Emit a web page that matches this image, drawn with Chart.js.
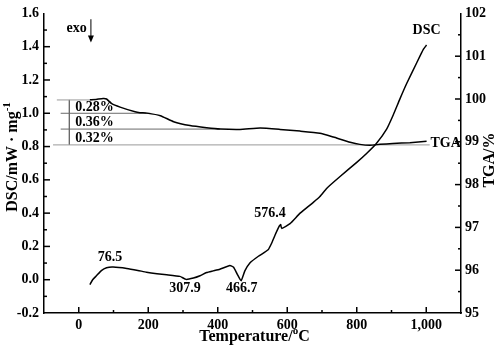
<!DOCTYPE html>
<html><head><meta charset="utf-8">
<script src="https://cdn.jsdelivr.net/npm/chart.js@4/dist/chart.umd.min.js"></script>
<style>html,body{margin:0;padding:0;background:#fff}#wrap{width:498px;height:347px}
.pre{font-family:"Liberation Serif";font-weight:bold;position:absolute;left:-999px}</style>
</head><body><span class="pre">0.28% Temperature</span><div id="wrap"><canvas id="c" width="498" height="347"></canvas></div>
<script>
// ---- data ----
const dscTemp   = [32, 40, 51, 65, 80, 99, 138, 170, 195, 225, 253, 291, 309, 330, 349, 368, 387, 406, 435, 445, 456, 467, 478, 493, 517, 545, 555, 565, 577, 581, 584, 608, 637, 675, 694, 714, 752, 800, 829, 857, 886, 905, 924, 944, 973, 992, 1001];
const dscValues = [-0.03, 0.0, 0.024, 0.055, 0.072, 0.076, 0.068, 0.056, 0.045, 0.036, 0.03, 0.02, 0.002, 0.01, 0.024, 0.043, 0.053, 0.063, 0.085, 0.076, 0.034, -0.006, 0.053, 0.102, 0.141, 0.18, 0.219, 0.269, 0.322, 0.331, 0.308, 0.337, 0.40, 0.465, 0.50, 0.55, 0.62, 0.705, 0.76, 0.82, 0.905, 0.99, 1.085, 1.18, 1.305, 1.385, 1.41];
const tgaTemp   = [32, 50, 70, 80, 95, 119, 162, 176, 196, 235, 273, 320, 368, 407, 464, 522, 579, 637, 694, 733, 781, 809, 838, 867, 904, 953, 1001];
const tgaValues = [99.98, 99.99, 100.01, 100.0, 99.89, 99.81, 99.70, 99.68, 99.67, 99.61, 99.47, 99.38, 99.33, 99.30, 99.29, 99.32, 99.29, 99.25, 99.20, 99.11, 98.99, 98.94, 98.92, 98.94, 98.96, 98.98, 99.01];
const xTickLabels   = [0, 200, 400, 600, 800, 1000];
const dscTickLabels = [-0.2, 0.0, 0.2, 0.4, 0.6, 0.8, 1.0, 1.2, 1.4, 1.6];
const tgaTickLabels = [95, 96, 97, 98, 99, 100, 101, 102];
// mass-loss steps (DSC-axis levels) and their labels
const stepLevels = [1.08, 1.0, 0.905, 0.81];
const stepStart  = [-63, -52, -52, -74];
const stepEnd    = [40, 206, 407, 1010];
const stepDivider = -27;
const stepLabels = ['0.28%', '0.36%', '0.32%'];
const peakLabels = ['76.5', '307.9', '466.7', '576.4'];

// ---- annotation anchors ----
const peakAnchors = [[90, 0.135], [306, -0.053], [469, -0.053], [550, 0.396]];
const FONT = '"Liberation Serif", "Times New Roman", Tinos, serif';

const datasets = [
  { data: dscTemp.map((t, i) => ({ x: t, y: dscValues[i] })), yAxisID: 'y', borderColor: '#000', borderWidth: 1.5, pointRadius: 0, tension: 0.15 },
  { data: tgaTemp.map((t, i) => ({ x: t, y: tgaValues[i] })), yAxisID: 'y1', borderColor: '#000', borderWidth: 1.5, pointRadius: 0, tension: 0.15 }
];
stepLevels.forEach((lv, i) => {
  datasets.push({ data: [{ x: stepStart[i], y: lv }, { x: stepEnd[i], y: lv }], yAxisID: 'y',
    borderColor: (i === 0 || i === 3) ? '#9a9a9a' : '#6a6a6a', borderWidth: 1, pointRadius: 0 });
});
datasets.push({ data: [{ x: stepDivider, y: stepLevels[0] }, { x: stepDivider, y: stepLevels[3] }], yAxisID: 'y',
  borderColor: '#6a6a6a', borderWidth: 1, pointRadius: 0 });

function ticksPlugin() {
  return {
    id: 'custom',
    afterDraw(chart) {
      const ctx = chart.ctx, a = chart.chartArea;
      const xs = chart.scales.x, ys = chart.scales.y, y1 = chart.scales.y1;
      ctx.save();
      ctx.strokeStyle = '#000'; ctx.lineWidth = 1.5;
      for (let v = 0; v <= 1000; v += 100) {
        const p = xs.getPixelForValue(v), len = (v % 200 === 0) ? 6 : 3;
        ctx.beginPath(); ctx.moveTo(p, a.bottom); ctx.lineTo(p, a.bottom - len); ctx.stroke();
      }
      for (let k = -1; k <= 15; k++) {
        const p = ys.getPixelForValue(k / 10), len = (Math.abs(k) % 2 === 0) ? 6 : 3;
        ctx.beginPath(); ctx.moveTo(a.left, p); ctx.lineTo(a.left + len, p); ctx.stroke();
      }
      for (let k = 191; k <= 203; k++) {
        const p = y1.getPixelForValue(k / 2), len = (k % 2 === 0) ? 6 : 3;
        ctx.beginPath(); ctx.moveTo(a.right, p); ctx.lineTo(a.right - len, p); ctx.stroke();
      }
      ctx.fillStyle = '#000';
      ctx.textBaseline = 'middle';
      {
        const main = 'Temperature/', sup = 'o', tail = 'C';
        ctx.font = 'bold 16px ' + FONT; const w1 = ctx.measureText(main).width, w3 = ctx.measureText(tail).width;
        ctx.font = 'bold 11px ' + FONT; const w2 = ctx.measureText(sup).width;
        const cx = (a.left + a.right) / 2 + 2, y = 337;
        let x = cx - (w1 + w2 + w3) / 2;
        ctx.textAlign = 'left';
        ctx.font = 'bold 16px ' + FONT; ctx.fillText(main, x, y); x += w1;
        ctx.font = 'bold 11px ' + FONT; ctx.fillText(sup, x, y - 6); x += w2;
        ctx.font = 'bold 16px ' + FONT; ctx.fillText(tail, x, y);
      }
      {
        ctx.save(); ctx.translate(13, 157); ctx.rotate(-Math.PI / 2);
        const main = 'DSC/mW · mg', sup = '-1';
        ctx.font = 'bold 16px ' + FONT; const w1 = ctx.measureText(main).width;
        ctx.font = 'bold 11px ' + FONT; const w2 = ctx.measureText(sup).width;
        let x = -(w1 + w2) / 2; ctx.textAlign = 'left';
        ctx.font = 'bold 16px ' + FONT; ctx.fillText(main, x, 0); x += w1;
        ctx.font = 'bold 11px ' + FONT; ctx.fillText(sup, x, -6);
        ctx.restore();
      }
      {
        ctx.save(); ctx.translate(490, 160); ctx.rotate(-Math.PI / 2);
        ctx.font = 'bold 16px ' + FONT; ctx.textAlign = 'center'; ctx.fillText('TGA/%', 0, 0);
        ctx.restore();
      }
      ctx.font = 'bold 14px ' + FONT; ctx.textAlign = 'center';
      peakLabels.forEach((t, i) => {
        ctx.fillText(t, xs.getPixelForValue(peakAnchors[i][0]), ys.getPixelForValue(peakAnchors[i][1]));
      });
      ctx.fillText('DSC', xs.getPixelForValue(1001), ys.getPixelForValue(1.5));
      ctx.textAlign = 'left';
      ctx.fillText('TGA', xs.getPixelForValue(1012), y1.getPixelForValue(98.97));
      ctx.font = 'bold 14px ' + FONT;
      stepLabels.forEach((t, i) => {
        const mid = (stepLevels[i] + stepLevels[i + 1]) / 2;
        ctx.fillText(t, xs.getPixelForValue(-10), ys.getPixelForValue(mid) + 1);
      });
      ctx.font = 'bold 14px ' + FONT; ctx.textAlign = 'center';
      ctx.fillText('exo', xs.getPixelForValue(-6), ys.getPixelForValue(1.51));
      const ax = xs.getPixelForValue(35), at = ys.getPixelForValue(1.565), ab = ys.getPixelForValue(1.425);
      ctx.lineWidth = 1;
      ctx.beginPath(); ctx.moveTo(ax, at); ctx.lineTo(ax, ab - 5); ctx.stroke();
      ctx.beginPath(); ctx.moveTo(ax - 3, ab - 7); ctx.lineTo(ax + 3, ab - 7); ctx.lineTo(ax, ab); ctx.closePath(); ctx.fill();
      ctx.restore();
    }
  };
}

function build() {
  const tickFont = { family: FONT, size: 14, weight: 'bold' };
  new Chart(document.getElementById('c'), {
    type: 'line',
    data: { datasets },
    options: {
      responsive: false, devicePixelRatio: 1, animation: false,
      layout: { padding: { top: 7, left: 0, right: 0, bottom: 0 } },
      plugins: { legend: { display: false }, tooltip: { enabled: false } },
      scales: {
        x: {
          type: 'linear', min: -100, max: 1100,
          afterBuildTicks: s => { s.ticks = xTickLabels.map(v => ({ value: v })); },
          afterFit: s => { s.height = 34; },
          grid: { display: false, drawTicks: false },
          border: { display: true, color: '#000', width: 1.5 },
          ticks: { color: '#000', font: tickFont, padding: 4, maxRotation: 0, autoSkip: false }
        },
        y: {
          type: 'linear', position: 'left', min: -0.2, max: 1.6,
          afterBuildTicks: s => { s.ticks = dscTickLabels.map(v => ({ value: v })); },
          afterFit: s => { s.width = 44; },
          grid: { display: false, drawTicks: false },
          border: { display: true, color: '#000', width: 1.5 },
          ticks: { color: '#000', font: tickFont, padding: 5, callback: v => v.toFixed(1) }
        },
        y1: {
          type: 'linear', position: 'right', min: 95, max: 102,
          afterBuildTicks: s => { s.ticks = tgaTickLabels.map(v => ({ value: v })); },
          afterFit: s => { s.width = 37; },
          grid: { display: false, drawTicks: false },
          border: { display: true, color: '#000', width: 1.5 },
          ticks: { color: '#000', font: tickFont, padding: 4 }
        }
      }
    },
    plugins: [ticksPlugin()]
  });
}
if (document.fonts && document.fonts.load) {
  Promise.all([document.fonts.load('bold 14px "Liberation Serif"'), document.fonts.load('bold 16px "Liberation Serif"')])
    .then(build, build);
} else { build(); }
</script>
</body></html>
